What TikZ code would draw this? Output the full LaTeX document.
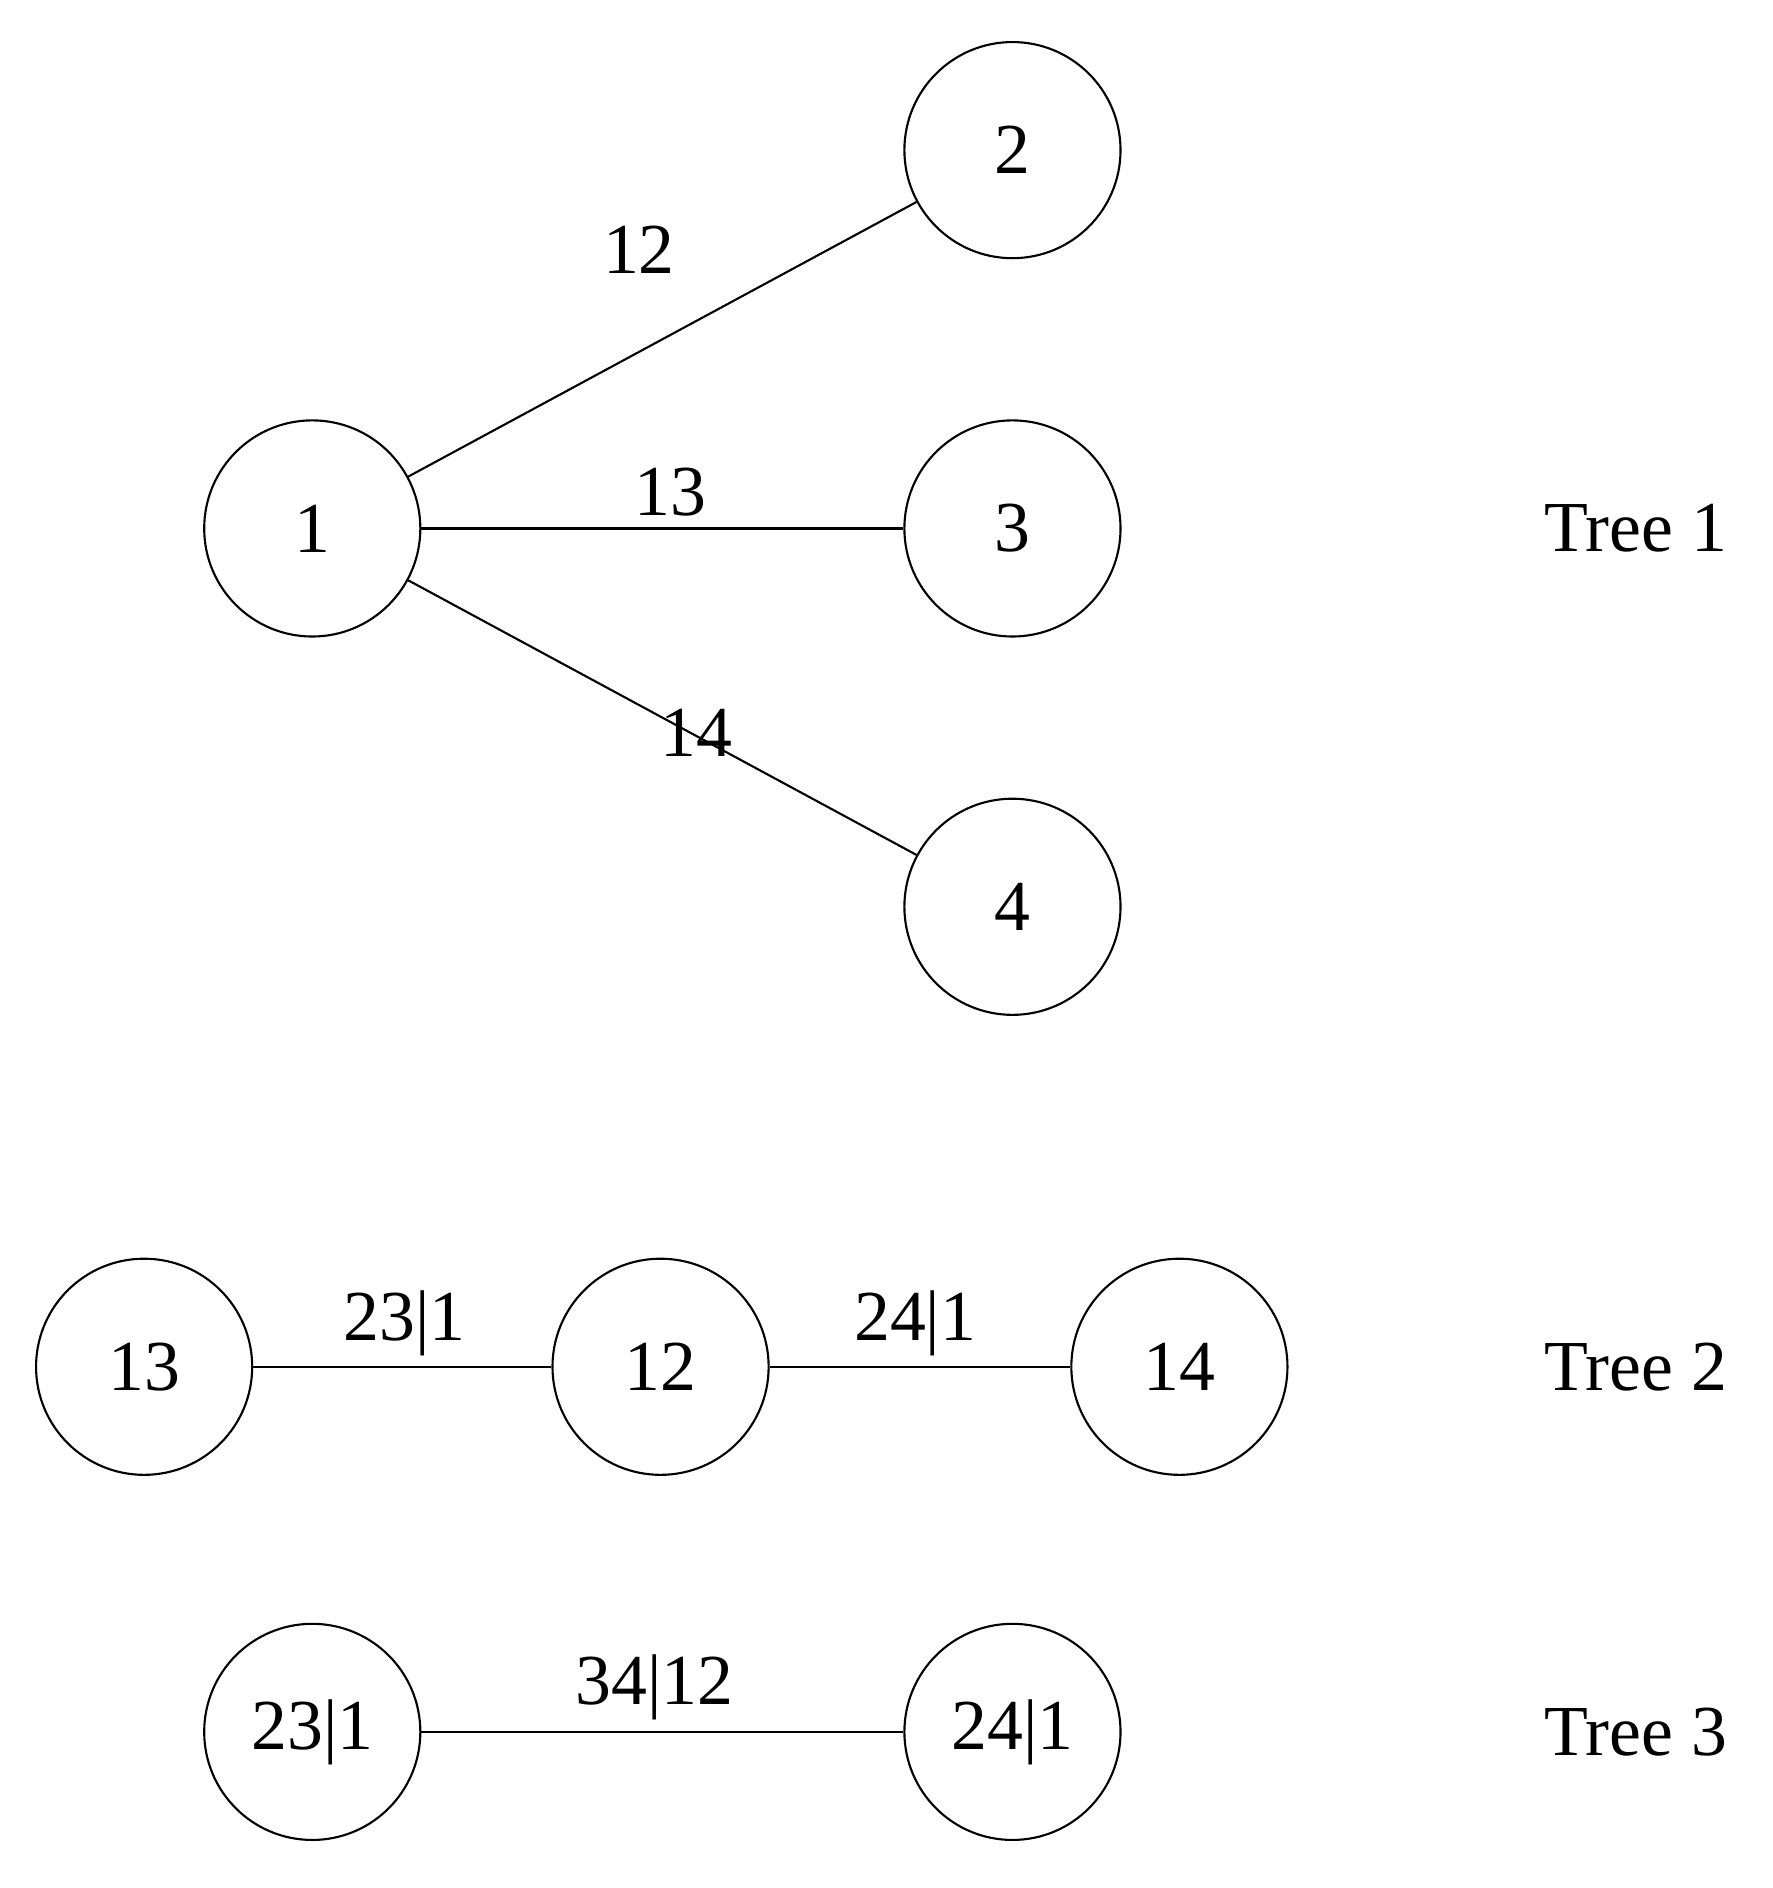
\documentclass[tikz,border=0pt]{standalone}
\usepackage{fontspec}
\setmainfont{Liberation Serif}
\begin{document}
\begin{tikzpicture}[x=0.02cm,y=-0.02cm,
  vert/.style={draw,circle,minimum size=3.6cm,inner sep=0pt,line width=1pt,font=\fontsize{34}{40}\selectfont},
  lab/.style={font=\fontsize{34}{40}\selectfont},
  edge/.style={line width=1pt}]
\useasboundingbox (0,0) rectangle (1476,1572);
\node[vert] (n1) at (260,440) {1};
\node[vert] (n2) at (843,125) {2};
\node[vert] (n3) at (843,440) {3};
\node[vert] (n4) at (843,755) {4};
\draw[edge] (n1) -- (n2);
\draw[edge] (n1) -- (n3);
\draw[edge] (n1) -- (n4);
\node[lab] (l12) at (532,208) {12};
\node[lab] (l13) at (558,410) {13};
\node[lab] (l14) at (580,610) {14};
\node[vert] (m13) at (120,1138) {13};
\node[vert] (m12) at (550,1138) {12};
\node[vert] (m14) at (982,1138) {14};
\draw[edge] (m13) -- (m12);
\draw[edge] (m12) -- (m14);
\node[lab] (l231) at (337,1102) {23|1};
\node[lab] (l241) at (762,1102) {24|1};
\node[vert] (k231) at (260,1442) {23|1};
\node[vert] (k241) at (843,1442) {24|1};
\draw[edge] (k231) -- (k241);
\node[lab] (l3412) at (545,1405) {34|12};
\node[lab] (t1) at (1362,440) {Tree 1};
\node[lab] (t2) at (1362,1138) {Tree 2};
\node[lab] (t3) at (1362,1442) {Tree 3};
\end{tikzpicture}
\end{document}
